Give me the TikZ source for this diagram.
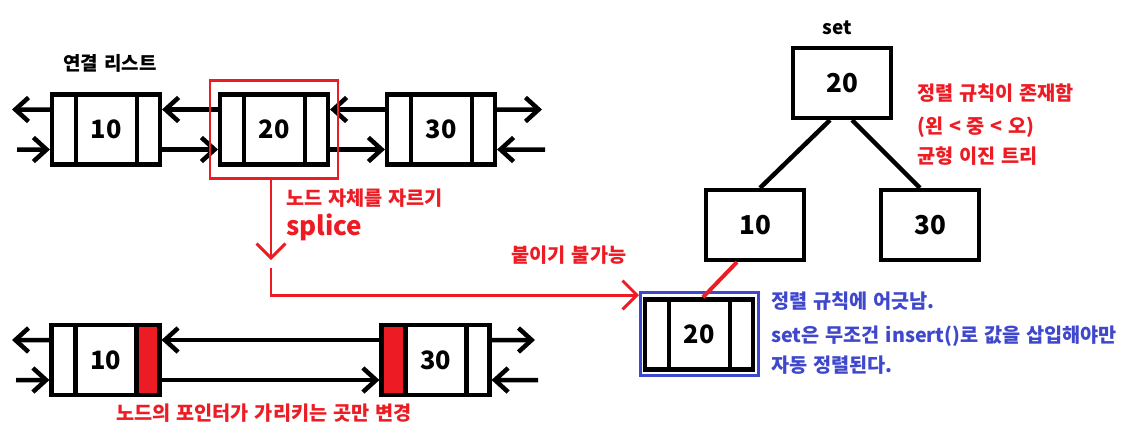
\documentclass[tikz,border=0pt]{standalone}
\usepackage{fontspec}
\setmainfont{Noto Sans CJK KR}[WordSpace=1.3]
\usetikzlibrary{arrows.meta, positioning}
\definecolor{pred}{RGB}{237,28,36}
\definecolor{pblue}{RGB}{63,72,204}

\begin{document}
\begin{tikzpicture}[x=0.025cm, y=-0.025cm, font=\bfseries,
    link/.style={line width=3.2pt, -{Straight Barb[length=0.33cm, width=0.6cm]}},
    redlink/.style={pred, line width=2.1pt, -{Straight Barb[length=0.36cm, width=0.72cm]}},
    lnode/.style 2 args={draw, line width=3.2pt, minimum width=2.69cm, minimum height=1.75cm,
        inner sep=0pt, font=\fontsize{18}{20}\selectfont\bfseries,
        path picture={
            \fill[#1] (path picture bounding box.north west) rectangle ([xshift=0.59cm]path picture bounding box.south west);
            \fill[#2] ([xshift=-0.57cm]path picture bounding box.north east) rectangle (path picture bounding box.south east);
            \draw[line width=3.2pt] ([xshift=0.59cm]path picture bounding box.north west) -- ([xshift=0.59cm]path picture bounding box.south west);
            \draw[line width=3.2pt] ([xshift=-0.57cm]path picture bounding box.north east) -- ([xshift=-0.57cm]path picture bounding box.south east);
        }},
    tnode/.style={draw, line width=3.2pt, minimum width=2.44cm, minimum height=1.74cm,
        inner sep=0pt, font=\fontsize{18.5}{20}\selectfont\bfseries},
    ttl/.style={inner sep=0pt, font=\fontsize{13.5}{16}\selectfont\bfseries},
    rtxt/.style={text=pred, inner sep=0pt, font=\fontsize{14}{21}\selectfont\bfseries},
    btxt/.style={text=pblue, inner sep=0pt, font=\fontsize{14}{21}\selectfont\bfseries}]

    \fill[white] (0,0) rectangle (1122,430);
    \useasboundingbox (0,0) rectangle (1122,430);

    % linked list, before
    \node[ttl] (title) at (110,63) {연결 리스트};
    \node[lnode={white}{white}] (a10) at (106,129.5) {10};
    \node[lnode={white}{white}] (a20) at (274,129.5) {20};
    \node[lnode={white}{white}] (a30) at (441,129.5) {30};

    % linked list, after
    \node[lnode={white}{pred}] (b10) at (105.5,360) {10};
    \node[lnode={pred}{white}] (b30) at (435.5,360) {30};

    % free ends of the outer links
    \coordinate (aL1) at (12,109.5);
    \coordinate (aL2) at (17,149.5);
    \coordinate (aR1) at (542,109.5);
    \coordinate (aR2) at (545,149.5);
    \coordinate (bL1) at (12,340);
    \coordinate (bL2) at (16,380);
    \coordinate (bR1) at (535,340);
    \coordinate (bR2) at (538,380);

    \draw[link] ([yshift=0.5cm]a10.west) -- (aL1);
    \draw[link] (aL2) -- ([yshift=-0.5cm]a10.west);
    \draw[link] ([yshift=0.5cm]a30.east) -- (aR1);
    \draw[link] (aR2) -- ([yshift=-0.5cm]a30.east);
    \draw[link] ([yshift=0.5cm]b10.west) -- (bL1);
    \draw[link] (bL2) -- ([yshift=-0.5cm]b10.west);
    \draw[link] ([yshift=0.5cm]b30.east) -- (bR1);
    \draw[link] (bR2) -- ([yshift=-0.5cm]b30.east);

    \foreach \p/\q in {a10/a20, a20/a30, b10/b30} {
        \draw[link] ([yshift=0.5cm]\q.west) -- ([yshift=0.5cm]\p.east);
        \draw[link] ([yshift=-0.5cm]\p.east) -- ([yshift=-0.5cm]\q.west);
    }

    % cutting out a node
    \node[draw=pred, line width=2.1pt, minimum width=3.2cm, minimum height=2.43cm] (cut) at (a20) {};
    \coordinate (cutend) at (271,260);
    \coordinate (gap) at (271,268);
    \draw[redlink] (cut.south -| cutend) -- (cutend);
    \node[rtxt, anchor=west] (cutlbl) at (286,198) {노드 자체를 자르기};
    \node[rtxt, anchor=west, font=\fontsize{18.5}{20}\selectfont\bfseries] (splice) at (286,227) {splice};
    \node[rtxt] (nojoin) at (569,255) {붙이기 불가능};
    \node[rtxt] (ptrlbl) at (264,413) {노드의 포인터가 가리키는 곳만 변경};

    % set tree
    \node[ttl] (setlbl) at (837,28) {set};
    \node[tnode] (root) at (842,83) {20};
    \node[tnode] (t10) at (755,225) {10};
    \node[tnode] (t30) at (930,225) {30};
    \draw[line width=3.2pt] ([xshift=-0.3cm]root.south) -- ([xshift=0.125cm]t10.north);
    \draw[line width=3.2pt] ([xshift=0.25cm]root.south) -- ([xshift=-0.25cm]t30.north);
    \node[rtxt, anchor=north west, align=left] (rule) at (917,83)
        {정렬 규칙이 존재함\\[3pt](왼 < 중 < 오)\\균형 이진 트리};

    % the cut node does not fit in
    \node[lnode={white}{white}] (s20) at (699,334.5) {20};
    \node[draw=pblue, line width=2.1pt, minimum width=2.95cm, minimum height=2.075cm] (blue) at (699.5,334) {};
    \draw[redlink] (gap) |- ([yshift=-0.1cm]blue.north west);
    \draw[pred, line width=2.8pt] ([xshift=-0.45cm]t10.south) -- ([xshift=0.1cm]s20.north);
    \node[btxt, anchor=north west, align=left] (warn) at (771,292)
        {정렬 규칙에 어긋남.\\[3pt]set은 무조건 insert()로 값을 삽입해야만\\자동 정렬된다.};
\end{tikzpicture}
\end{document}
